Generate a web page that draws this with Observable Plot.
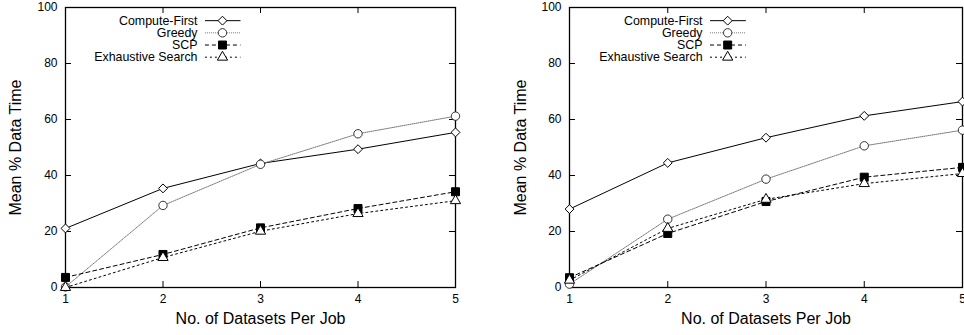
<!DOCTYPE html>
<html><head><meta charset="utf-8">
<script src="https://cdn.jsdelivr.net/npm/d3@7"></script>
<script src="https://cdn.jsdelivr.net/npm/@observablehq/plot@0.6"></script>
<style>
body{margin:0;background:#fff}
#wrap{display:flex;width:964px;height:335px}
#wrap>div{width:482px;height:335px;overflow:hidden}
</style>
</head><body><div id="wrap"><div id="a"></div><div id="b"></div></div>
<script>
// Data
const datasets = [1, 2, 3, 4, 5];
const yTicks = [0, 20, 40, 60, 80, 100];
const series = ["Compute-First", "Greedy", "SCP", "Exhaustive Search"];
const xLabel = "No. of Datasets Per Job";
const yLabel = "Mean % Data Time";

const leftComputeFirst = [21.1, 35.4, 44.3, 49.4, 55.4];
const leftGreedy       = [0.2, 29.3, 44.0, 54.9, 61.2];
const leftSCP          = [3.6, 11.8, 21.3, 28.2, 34.2];
const leftExhaustive   = [0.0, 10.7, 20.1, 26.4, 31.0];

const rightComputeFirst = [28.0, 44.5, 53.5, 61.3, 66.4];
const rightGreedy       = [1.2, 24.4, 38.7, 50.6, 56.2];
const rightSCP          = [3.5, 19.3, 30.7, 39.4, 42.9];
const rightExhaustive   = [2.6, 21.1, 31.5, 37.1, 40.7];

const styles = {
  "Compute-First":     {stroke: "#000", w: 1, dash: null, symbol: "diamond2", r: 4.0, fill: "#fff"},
  "Greedy":            {stroke: "#777", w: 1, dash: "1,1", symbol: "circle", r: 4.2, fill: "#fff", mstroke: "#333"},
  "SCP":               {stroke: "#000", w: 1, dash: "4,3", symbol: "square", r: 4.5, fill: "#000"},
  "Exhaustive Search": {stroke: "#000", w: 1, dash: "2,3", symbol: "triangle", r: 3.8, fill: "#fff"}
};

const TOP = 7, BOTTOM = 48, H = 335, W = 482, TICK = 6;

function panel(values, m) {
  const marks = [];
  const font = 12;
  const fh = H - TOP - BOTTOM, fw = W - m.left - m.right;
  marks.push(Plot.frame({stroke: "#000", strokeWidth: 1.3}));
  // inward ticks on all four sides
  marks.push(Plot.tickX(datasets, {x: d => d, insetTop: fh - TICK, stroke: "#000"}));
  marks.push(Plot.tickX(datasets, {x: d => d, insetBottom: fh - TICK, stroke: "#000"}));
  marks.push(Plot.tickY(yTicks, {y: d => d, insetRight: fw - TICK, stroke: "#000"}));
  marks.push(Plot.tickY(yTicks, {y: d => d, insetLeft: fw - TICK, stroke: "#000"}));
  // tick labels
  marks.push(Plot.axisX(datasets, {anchor: "bottom", tickSize: 0, tickPadding: 7, fontSize: font, label: null}));
  marks.push(Plot.axisY(yTicks, {anchor: "left", tickSize: 0, tickPadding: 8, fontSize: font, label: null}));
  // axis titles
  marks.push(Plot.text([xLabel], {frameAnchor: "bottom", dy: 31, fontSize: 16, lineAnchor: "middle"}));
  marks.push(Plot.text([yLabel], {frameAnchor: "left", dx: m.ylabDx, rotate: -90, fontSize: 16, lineAnchor: "middle", textAnchor: "middle"}));

  series.forEach((s, i) => {
    const st = styles[s];
    const d = datasets.map((x, j) => ({x, y: values[i][j]}));
    marks.push(Plot.line(d, {x: "x", y: "y", stroke: st.stroke, strokeWidth: st.w, strokeDasharray: st.dash}));
  });
  series.forEach((s, i) => {
    const st = styles[s];
    const d = datasets.map((x, j) => ({x, y: values[i][j]}));
    marks.push(Plot.dot(d, {x: "x", y: "y", symbol: st.symbol, r: st.r, fill: st.fill, stroke: st.mstroke || "#000", strokeWidth: 1}));
  });
  // legend (inside, top-left)
  const lg = series.map((s, i) => ({s, y: 95.3 - i * 4.35}));
  marks.push(Plot.text(lg, {x: () => 2.354, y: "y", text: "s", textAnchor: "end", fontSize: 12.4, fill: "#000"}));
  lg.forEach(e => {
    const st = styles[e.s];
    marks.push(Plot.link([e], {x1: () => 2.43, x2: () => 2.795, y1: "y", y2: "y", stroke: st.stroke, strokeWidth: st.w, strokeDasharray: st.dash}));
    marks.push(Plot.dot([e], {x: () => 2.61, y: "y", symbol: st.symbol, r: st.r, fill: st.fill, stroke: st.mstroke || "#000", strokeWidth: 1}));
  });

  return Plot.plot({
    width: W, height: H,
    marginLeft: m.left, marginRight: m.right, marginTop: TOP, marginBottom: BOTTOM,
    x: {domain: [1, 5]},
    y: {domain: [0, 100]},
    style: {fontFamily: "'Liberation Sans', Arial, sans-serif", color: "#000", background: "#fff", overflow: "visible"},
    marks
  });
}

document.getElementById("a").append(panel([leftComputeFirst, leftGreedy, leftSCP, leftExhaustive], {left: 65, right: 27, ylabDx: -50}));
document.getElementById("b").append(panel([rightComputeFirst, rightGreedy, rightSCP, rightExhaustive], {left: 87, right: 2, ylabDx: -49}));
</script>
</body></html>
